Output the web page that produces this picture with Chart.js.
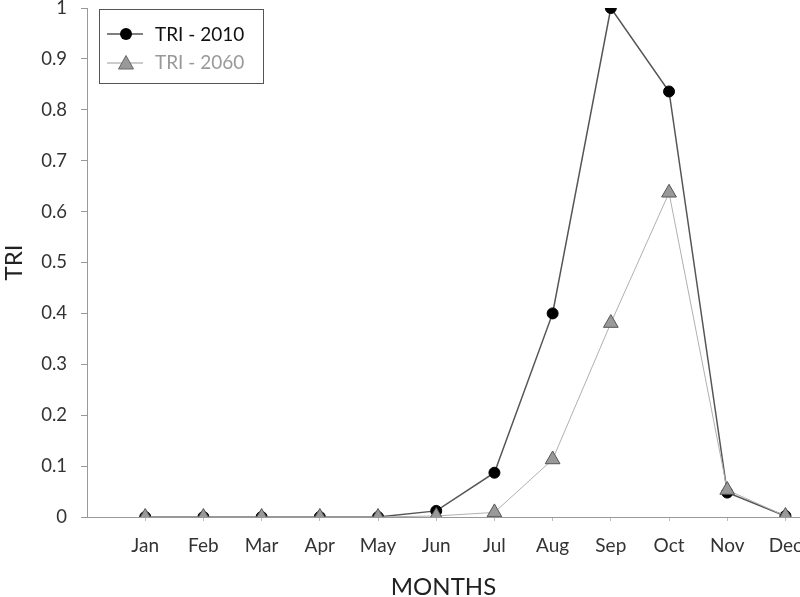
<!DOCTYPE html>
<html>
<head>
<meta charset="utf-8">
<script src="https://cdn.jsdelivr.net/npm/chart.js@4/dist/chart.umd.min.js"></script>
<style>
  html, body { margin: 0; padding: 0; background: #fff; }
  #wrap { width: 800px; height: 597px; }
</style>
</head>
<body>
<div id="wrap"><canvas id="chart"></canvas></div>
<script>
const months = ["Jan", "Feb", "Mar", "Apr", "May", "Jun", "Jul", "Aug", "Sep", "Oct", "Nov", "Dec"];
const tri2010 = [0, 0, 0, 0, 0, 0.012, 0.087, 0.4, 1.0, 0.836, 0.048, 0.002];
const tri2060 = [0, 0, 0, 0, 0, 0.002, 0.009, 0.113, 0.381, 0.637, 0.053, 0.002];
const seriesNames = ["TRI - 2010", "TRI - 2060"];

const FONT = "Lato";

// points on a numeric x axis so the plot can start one month before Jan
function toPoints(values) {
    return values.map((v, i) => ({ x: i, y: v }));
}

// legend with line + marker samples inside a framed box
const boxLegend = {
    id: "boxLegend",
    afterDraw(chart) {
        const ctx = chart.ctx;
        ctx.save();
        ctx.strokeStyle = "#555";
        ctx.lineWidth = 1;
        ctx.strokeRect(99.5, 9.5, 164, 74);

        // TRI - 2010
        ctx.strokeStyle = "#555";
        ctx.lineWidth = 1.5;
        ctx.beginPath();
        ctx.moveTo(107, 34);
        ctx.lineTo(143, 34);
        ctx.stroke();
        ctx.fillStyle = "#000";
        ctx.beginPath();
        ctx.arc(126, 34, 6, 0, Math.PI * 2);
        ctx.fill();

        // TRI - 2060
        ctx.strokeStyle = "#999";
        ctx.lineWidth = 1;
        ctx.beginPath();
        ctx.moveTo(107, 63);
        ctx.lineTo(143, 63);
        ctx.stroke();
        ctx.fillStyle = "#999";
        ctx.strokeStyle = "#666";
        ctx.beginPath();
        ctx.moveTo(126, 55.5);
        ctx.lineTo(133.5, 69);
        ctx.lineTo(118.5, 69);
        ctx.closePath();
        ctx.fill();
        ctx.stroke();

        ctx.font = "19px " + FONT;
        ctx.textBaseline = "middle";
        ctx.textAlign = "left";
        ctx.fillStyle = "#111";
        ctx.fillText(seriesNames[0], 155, 35);
        ctx.fillStyle = "#999";
        ctx.fillText(seriesNames[1], 155, 63);
        ctx.restore();
    }
};

new Chart(document.getElementById("chart"), {
    type: "line",
    data: {
        datasets: [
            {
                label: seriesNames[0],
                data: toPoints(tri2010),
                borderColor: "#555",
                borderWidth: 1.5,
                pointStyle: "circle",
                pointRadius: 5.5,
                pointBackgroundColor: "#000",
                pointBorderColor: "#000",
                pointBorderWidth: 1,
                order: 1
            },
            {
                label: seriesNames[1],
                data: toPoints(tri2060),
                borderColor: "#b0b0b0",
                borderWidth: 1,
                pointStyle: "triangle",
                pointRadius: 8.5,
                pointBackgroundColor: "#999",
                pointBorderColor: "#555",
                pointBorderWidth: 1,
                order: 0
            }
        ]
    },
    options: {
        responsive: true,
        maintainAspectRatio: false,
        animation: false,
        layout: { autoPadding: false, padding: { top: 8, right: 0, bottom: 0, left: 0 } },
        plugins: {
            legend: { display: false },
            tooltip: { enabled: false }
        },
        scales: {
            x: {
                type: "linear",
                min: -1,
                max: 11.25,
                border: { color: "#999", width: 1 },
                grid: {
                    drawOnChartArea: false,
                    tickLength: 4,
                    color: "#bbb"
                },
                afterBuildTicks(scale) {
                    scale.ticks = months.map((m, i) => ({ value: i }));
                },
                ticks: {
                    autoSkip: false,
                    maxRotation: 0,
                    padding: 13,
                    color: "#333",
                    font: { family: FONT, size: 19 },
                    callback: (v) => months[v] || ""
                },
                title: {
                    display: true,
                    text: "MONTHS",
                    color: "#222",
                    font: { family: FONT, size: 24, lineHeight: 0.8 },
                    padding: { top: 0, bottom: 0 }
                },
                afterFit(scale) {
                    scale.height = 80;
                    scale.paddingLeft = 0;
                    scale.paddingRight = 0;
                }
            },
            y: {
                min: 0,
                max: 1,
                border: { color: "#999", width: 1 },
                grid: {
                    drawOnChartArea: false,
                    tickLength: 6,
                    color: "#999"
                },
                ticks: {
                    stepSize: 0.1,
                    padding: 14,
                    color: "#333",
                    font: { family: FONT, size: 18.5 },
                    callback: (v) => String(Math.round(v * 10) / 10)
                },
                title: {
                    display: true,
                    text: "TRI",
                    color: "#222",
                    font: { family: FONT, size: 24 },
                    padding: { top: 0, bottom: 0 }
                },
                afterFit(scale) {
                    scale.width = 87;
                    scale.paddingTop = 0;
                    scale.paddingBottom = 0;
                }
            }
        }
    },
    plugins: [boxLegend]
});
</script>
</body>
</html>
